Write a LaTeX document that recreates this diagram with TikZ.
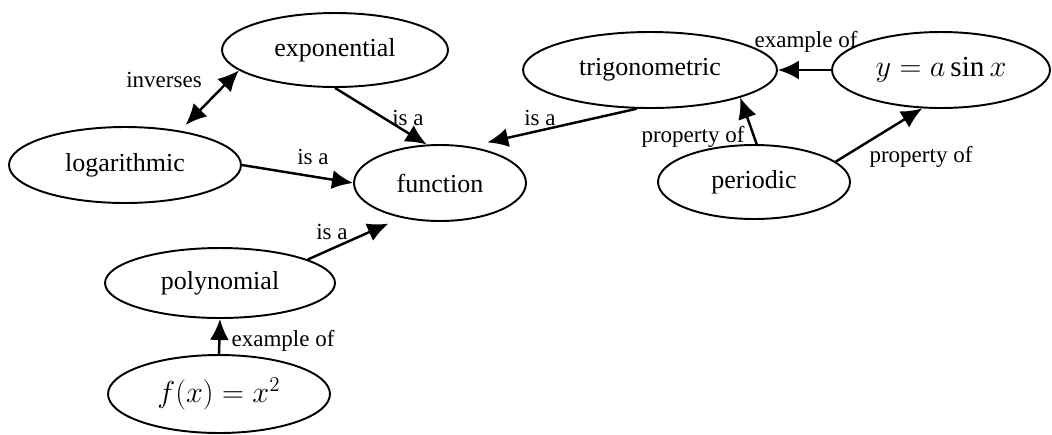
\documentclass[tikz,border=0pt]{standalone}
\usepackage{fontspec}
\setmainfont{Liberation Serif}
\usetikzlibrary{arrows.meta, shapes.geometric}

\begin{document}
\begin{tikzpicture}[
	x=0.02cm, y=-0.02cm,
	concept/.style={ellipse, draw, line width=1.1pt, inner sep=0pt, minimum height=1.52cm, font=\fontsize{14.8}{17}\selectfont},
	formula/.style={concept, font=\fontsize{16.6}{19}\selectfont},
	rel/.style={inner sep=1pt, font=\fontsize{13.1}{15}\selectfont},
	link/.style={->, line width=1.4pt},
	>={Latex[length=0.42cm, width=0.38cm]}
	]
	\useasboundingbox (0,0) rectangle (1052,434);

	% concepts
	\node[concept, minimum width=4.52cm, minimum height=1.48cm] (exponential) at (335,50) {exponential};
	\node[concept, minimum width=4.64cm] (logarithmic) at (125,165) {logarithmic};
	\node[concept, minimum width=3.44cm] (function) at (440,183) {function};
	\node[concept, minimum width=5.08cm] (trigonometric) at (650,70) {trigonometric};
	\node[formula, minimum width=4.36cm] (sine) at (941,70) {$y = a\sin x$};
	\node[concept, minimum width=3.84cm, minimum height=1.48cm] (periodic) at (754,182) {periodic};
	\node[concept, minimum width=4.6cm, minimum height=1.4cm] (polynomial) at (220,283) {polynomial};
	\node[formula, minimum width=4.44cm, minimum height=1.56cm] (square) at (219,394) {$f(x) = x^2$};

	% links
	\draw[link, <->, shorten <=0.16cm] (logarithmic.32) -- (exponential.192);
	\draw[link] (logarithmic.east) -- (function.west);
	\draw[link] (exponential.south) -- (function.109);
	\draw[link, shorten >=0.36cm] (trigonometric.251) -- (function.51);
	\draw[link] (sine.west) -- (trigonometric.east);
	\draw[link] (periodic.86) -- (trigonometric.-17);
	\draw[link] (periodic.14) -- (sine.244);
	\draw[link, shorten >=0.28cm] (polynomial.15) -- (function.222);
	\draw[link] (square.north) -- (polynomial.south);

	% link labels
	\node[rel] (inv) at (164,80) {inverses};
	\node[rel] (isa1) at (408,118) {is a};
	\node[rel] (isa2) at (313,157) {is a};
	\node[rel] (isa3) at (540,118) {is a};
	\node[rel] (ex1) at (806,42) {example of};
	\node[rel] (prop1) at (693,137) {property of};
	\node[rel] (prop2) at (921,157) {property of};
	\node[rel] (isa4) at (332,232) {is a};
	\node[rel] (ex2) at (283,341) {example of};
\end{tikzpicture}
\end{document}
